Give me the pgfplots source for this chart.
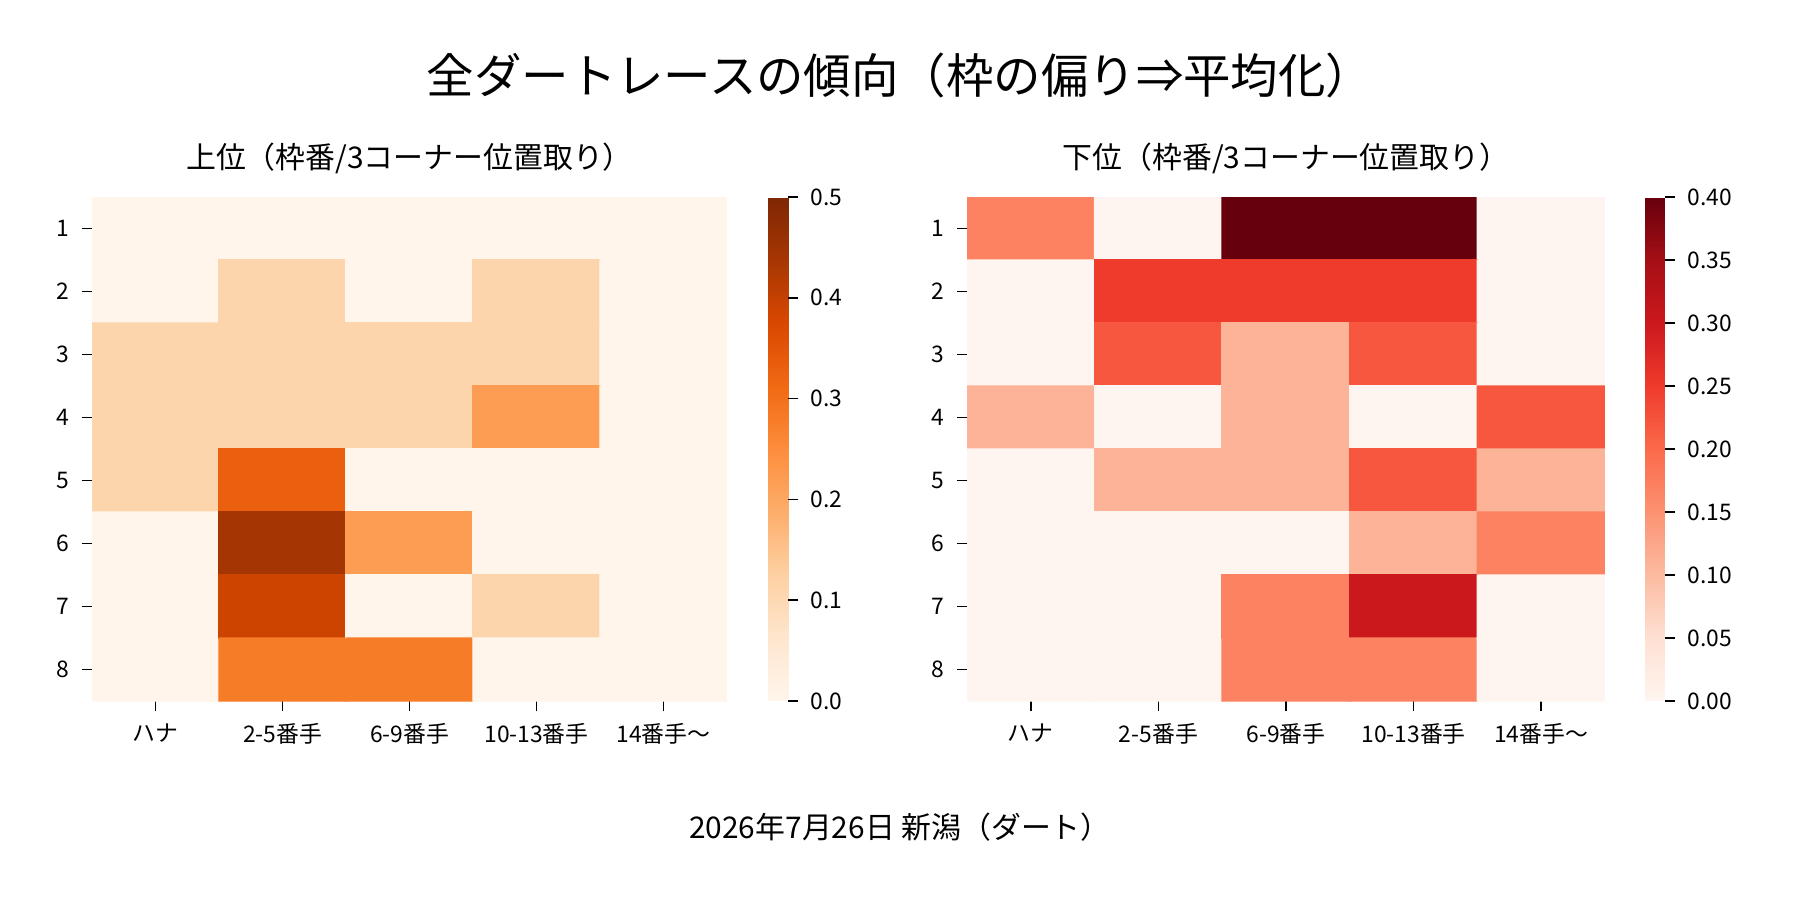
\documentclass[border=0pt]{standalone}
\usepackage{pgfplots}
\pgfplotsset{compat=1.18}
\usepackage{fontspec}
\setmainfont{Noto Sans CJK JP}
\pgfplotsset{
 colormap={oranges}{HTML=(FFF5EB) HTML=(FEE6CE) HTML=(FDD0A2) HTML=(FDAE6B) HTML=(FD8D3C) HTML=(F16913) HTML=(D94801) HTML=(A63603) HTML=(7F2704)},
 colormap={reds}{HTML=(FFF5F0) HTML=(FEE0D2) HTML=(FCBBA1) HTML=(FC9272) HTML=(FB6A4A) HTML=(EF3B2C) HTML=(CB181D) HTML=(A50F15) HTML=(67000D)},
 hm/.style={scale only axis, width=63.5mm, height=50.4mm, anchor=south west,
  xmin=-0.5,xmax=4.5,ymin=0.5,ymax=8.5,y dir=reverse, axis line style={draw=none},
  xtick={0,1,2,3,4}, xticklabels={ハナ,2-5番手,6-9番手,10-13番手,14番手〜},
  ytick={1,...,8}, xtick pos=bottom, ytick pos=left, tick align=outside,
  major tick length=1mm, tick style={black,thin},
  ticklabel style={font=\fontsize{6.5pt}{7pt}\selectfont},
  /pgf/number format/assume math mode=true,
  title style={font=\fontsize{8.5pt}{9pt}\selectfont, yshift=-1mm},
  colorbar, colorbar style={at={(1.065,1)}, anchor=north west, width=2mm,
   axis line style={draw=none}, ytick pos=right, tick align=outside, major tick length=1mm,
   yticklabel style={font=\fontsize{6.5pt}{7pt}\selectfont, /pgf/number format/.cd, fixed, fixed zerofill, assume math mode=true}},
 }
}
\begin{document}
\begin{tikzpicture}
\path (0,0) rectangle (180mm,90mm);
\node[font=\fontsize{13.5pt}{14pt}\selectfont] at (90mm,82.5mm) {全ダートレースの傾向（枠の偏り⇒平均化）};
\node[font=\fontsize{8.5pt}{9pt}\selectfont] at (90mm,7.3mm) {2026年7月26日 新潟（ダート）};
\begin{axis}[hm, at={(9.2mm,19.9mm)}, colormap name=oranges, point meta min=0, point meta max=0.5,
  title={上位（枠番/3コーナー位置取り）},
  colorbar style={ytick={0,0.1,0.2,0.3,0.4,0.5}, yticklabel style={/pgf/number format/precision=1}}]
\addplot[matrix plot*, point meta=explicit, mesh/cols=5] table[meta=c]{
x y c
0 1 0
1 1 0
2 1 0
3 1 0
4 1 0
0 2 0
1 2 0.11
2 2 0
3 2 0.11
4 2 0
0 3 0.11
1 3 0.11
2 3 0.11
3 3 0.11
4 3 0
0 4 0.11
1 4 0.11
2 4 0.11
3 4 0.22
4 4 0
0 5 0.11
1 5 0.33
2 5 0
3 5 0
4 5 0
0 6 0
1 6 0.44
2 6 0.22
3 6 0
4 6 0
0 7 0
1 7 0.39
2 7 0
3 7 0.11
4 7 0
0 8 0
1 8 0.28
2 8 0.28
3 8 0
4 8 0
};
\end{axis}
\begin{axis}[hm, at={(96.7mm,19.9mm)}, width=63.8mm, colormap name=reds, point meta min=0, point meta max=0.4,
  title={下位（枠番/3コーナー位置取り）},
  colorbar style={at={(1.0627,1)}, ytick={0,0.05,...,0.41}, yticklabel style={/pgf/number format/precision=2}}]
\addplot[matrix plot*, point meta=explicit, mesh/cols=5] table[meta=c]{
x y c
0 1 0.17
1 1 0
2 1 0.4
3 1 0.4
4 1 0
0 2 0
1 2 0.25
2 2 0.25
3 2 0.25
4 2 0
0 3 0
1 3 0.22
2 3 0.11
3 3 0.22
4 3 0
0 4 0.11
1 4 0
2 4 0.11
3 4 0
4 4 0.22
0 5 0
1 5 0.11
2 5 0.11
3 5 0.22
4 5 0.11
0 6 0
1 6 0
2 6 0
3 6 0.11
4 6 0.17
0 7 0
1 7 0
2 7 0.17
3 7 0.3
4 7 0
0 8 0
1 8 0
2 8 0.17
3 8 0.17
4 8 0
};
\end{axis}
\end{tikzpicture}
\end{document}
